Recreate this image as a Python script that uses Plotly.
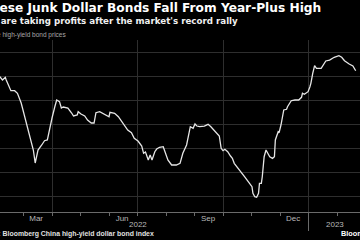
import plotly.graph_objects as go

# ---- data ----
dates = [
    "2022-02-03", "2022-02-04", "2022-02-07", "2022-02-10", "2022-02-11", "2022-02-14", "2022-02-16",
    "2022-02-20", "2022-02-23", "2022-02-27", "2022-03-03", "2022-03-06", "2022-03-10",
    "2022-03-12", "2022-03-14", "2022-03-17", "2022-03-21", "2022-03-24", "2022-03-27",
    "2022-03-29", "2022-04-01", "2022-04-04", "2022-04-06", "2022-04-09", "2022-04-11",
    "2022-04-13", "2022-04-18", "2022-04-22", "2022-04-24", "2022-04-28", "2022-04-29",
    "2022-05-02", "2022-05-06", "2022-05-09", "2022-05-13", "2022-05-16", "2022-05-18",
    "2022-05-22", "2022-05-25", "2022-05-29", "2022-06-01", "2022-06-02", "2022-06-07",
    "2022-06-11", "2022-06-16", "2022-06-21", "2022-06-25", "2022-06-28", "2022-07-02",
    "2022-07-06", "2022-07-08", "2022-07-10", "2022-07-13", "2022-07-15", "2022-07-17",
    "2022-07-20", "2022-07-22", "2022-07-25", "2022-07-29", "2022-07-31", "2022-08-03",
    "2022-08-07", "2022-08-12", "2022-08-16", "2022-08-19", "2022-08-23", "2022-08-26",
    "2022-08-27", "2022-08-30", "2022-09-01", "2022-09-03", "2022-09-06", "2022-09-11",
    "2022-09-15", "2022-09-18", "2022-09-22", "2022-09-27", "2022-09-29", "2022-10-01",
    "2022-10-03", "2022-10-06", "2022-10-09", "2022-10-11", "2022-10-13", "2022-10-19",
    "2022-10-24", "2022-10-28", "2022-11-01", "2022-11-02", "2022-11-04", "2022-11-06",
    "2022-11-08", "2022-11-09", "2022-11-11", "2022-11-12", "2022-11-13", "2022-11-14",
    "2022-11-16", "2022-11-18", "2022-11-20", "2022-11-23", "2022-11-25", "2022-11-26",
    "2022-11-28", "2022-11-29", "2022-11-30", "2022-12-02", "2022-12-05", "2022-12-08",
    "2022-12-09", "2022-12-13", "2022-12-17", "2022-12-21", "2022-12-24", "2022-12-25",
    "2022-12-27", "2022-12-31", "2023-01-02", "2023-01-03", "2023-01-05", "2023-01-07",
    "2023-01-09", "2023-01-14", "2023-01-19", "2023-01-23", "2023-01-28", "2023-02-02",
    "2023-02-05", "2023-02-08", "2023-02-13", "2023-02-17", "2023-02-20",
]
prices = [
    74.9, 74.86, 74.17, 74.73, 74.17, 72.77, 71.94,
    71.94, 71.40, 69.38, 66.46, 63.75, 61.31,
    59.58, 56.88, 59.58, 60.63, 61.52, 61.67,
    63.75, 66.25, 68.60, 70.00, 69.65, 68.33,
    68.54, 68.33, 67.29, 66.67, 66.88, 67.56,
    67.08, 66.67, 65.83, 65.21, 65.21, 67.35,
    67.56, 67.23, 66.67, 66.52, 67.44, 67.23,
    66.52, 65.15, 63.75, 63.19, 62.02, 61.46,
    60.42, 58.90, 59.17, 57.50, 58.54, 57.50,
    59.23, 59.79, 60.15, 60.27, 58.96, 57.50,
    56.46, 56.46, 56.81, 58.90, 60.63, 63.06,
    64.44, 64.10, 65.00, 64.58, 64.44, 64.58,
    64.94, 64.44, 63.60, 62.50, 59.94, 59.44,
    59.73, 59.23, 58.33, 57.85, 56.81, 55.42,
    54.02, 52.98, 51.94, 50.56, 49.85, 49.73,
    50.56, 52.65, 52.65, 54.02, 56.81, 58.19,
    59.58, 58.90, 58.19, 57.85, 58.19, 61.67,
    62.71, 63.40, 63.19, 64.79, 67.92, 68.06,
    68.60, 69.85, 70.00, 70.00, 70.56, 71.40,
    71.19, 71.73, 72.77, 73.48, 75.56, 77.15,
    76.60, 76.60, 78.13, 78.33, 78.90, 79.23,
    78.90, 78.19, 77.50, 77.08, 76.10,
]

quarter_starts = ["2022-04-01", "2022-07-01", "2022-10-01", "2023-01-01"]
month_starts = ["2022-03-01", "2022-04-01", "2022-05-01", "2022-06-01", "2022-07-01",
                "2022-08-01", "2022-09-01", "2022-10-01", "2022-11-01", "2022-12-01",
                "2023-01-01", "2023-02-01"]
month_label_dates = ["2022-03-15", "2022-06-15", "2022-09-15", "2022-12-15"]
month_labels = ["Mar", "Jun", "Sep", "Dec"]
year_label_dates = ["2022-07-02", "2023-01-29"]
year_labels = ["2022", "2023"]
year_divider = ["2023-01-01"]
y_grid = [50, 55, 60, 65, 70, 75, 80]

x_range = ["2022-02-04 08:00", "2023-02-24 14:00"]
y_range = [46.67, 82.5]

title = "Chinese Junk Dollar Bonds Fall From Year-Plus High"
subtitle = "Investors are taking profits after the market's record rally"
legend_text = "Bloomberg index of Chinese high-yield bond prices"
source = "Source: Bloomberg China high-yield dollar bond index"

W, H = 360, 240
T, B = 40, 28
PH = H - T - B


def py(pix):
    """page pixel row -> paper y"""
    return (H - B - pix) / PH


fig = go.Figure()
fig.add_trace(go.Scatter(x=dates, y=prices, mode="lines",
                         line=dict(color="#e6e6e6", width=1.3), hoverinfo="skip",
                         showlegend=False))
for ax in ("x2", "x3"):
    fig.add_trace(go.Scatter(x=dates, y=prices, mode="lines", xaxis=ax,
                             line=dict(color="rgba(0,0,0,0)", width=0),
                             hoverinfo="skip", showlegend=False))

axis_font = dict(family="Liberation Sans", size=8, color="#b8b8b8")
fig.update_layout(
    width=W, height=H,
    margin=dict(l=0, r=0, t=T, b=B),
    paper_bgcolor="#000000", plot_bgcolor="#000000",
    showlegend=False,
    xaxis=dict(range=x_range, type="date", tickmode="array", tickvals=quarter_starts,
               showticklabels=False, showgrid=True, gridcolor="#2e2e2e", gridwidth=1,
               ticks="", showline=True, linecolor="#6a6a6a", linewidth=1,
               zeroline=False,
               minor=dict(tickmode="array", tickvals=month_starts, ticks="outside",
                          ticklen=3, tickcolor="#6a6a6a", showgrid=False)),
    xaxis2=dict(range=x_range, type="date", overlaying="x", anchor="y", side="bottom",
                tickmode="array", tickvals=month_label_dates, ticktext=month_labels,
                showgrid=False, showline=False, ticks="", tickfont=axis_font,
                zeroline=False),
    xaxis3=dict(range=x_range, type="date", overlaying="x", anchor="y", side="bottom",
                tickmode="array", tickvals=year_divider, showticklabels=False,
                ticks="outside", ticklen=18, tickcolor="#6a6a6a", tickwidth=1,
                showgrid=False, showline=False, zeroline=False),
    yaxis=dict(range=y_range, tickmode="array", tickvals=y_grid, showticklabels=False,
               showgrid=True, gridcolor="#2e2e2e", gridwidth=1, zeroline=False,
               ticks="", showline=False),
)

for d, t in zip(year_label_dates, year_labels):
    fig.add_annotation(x=d, xref="x", y=py(225), yref="paper", yanchor="middle",
                       text=t, showarrow=False, font=axis_font)

fig.add_annotation(x=323 / W, xref="paper", xanchor="right", y=py(8), yref="paper",
                   yanchor="middle", text=f"<b>{title}</b>", showarrow=False,
                   font=dict(family="DejaVu Sans", size=12.2, color="#ffffff"))
fig.add_annotation(x=240 / W, xref="paper", xanchor="right", y=py(21), yref="paper",
                   yanchor="middle", text=f"<b>{subtitle}</b>", showarrow=False,
                   font=dict(family="DejaVu Sans", size=8.7, color="#f0f0f0"))
fig.add_annotation(x=68 / W, xref="paper", xanchor="right", y=py(35), yref="paper",
                   yanchor="middle", text=legend_text, showarrow=False,
                   font=dict(family="Liberation Sans", size=6.5, color="#a8a8a8"))
fig.add_annotation(x=156 / W, xref="paper", xanchor="right", y=py(234), yref="paper",
                   yanchor="middle", text=f"<b>{source}</b>", showarrow=False,
                   font=dict(family="Liberation Sans", size=6.9, color="#e0e0e0"))
fig.add_annotation(x=339 / W, xref="paper", xanchor="left", y=py(233), yref="paper",
                   yanchor="middle", text="<b>Bloomberg</b>", showarrow=False,
                   font=dict(family="Liberation Sans", size=7.3, color="#ffffff"))

fig.write_html("out.html")
